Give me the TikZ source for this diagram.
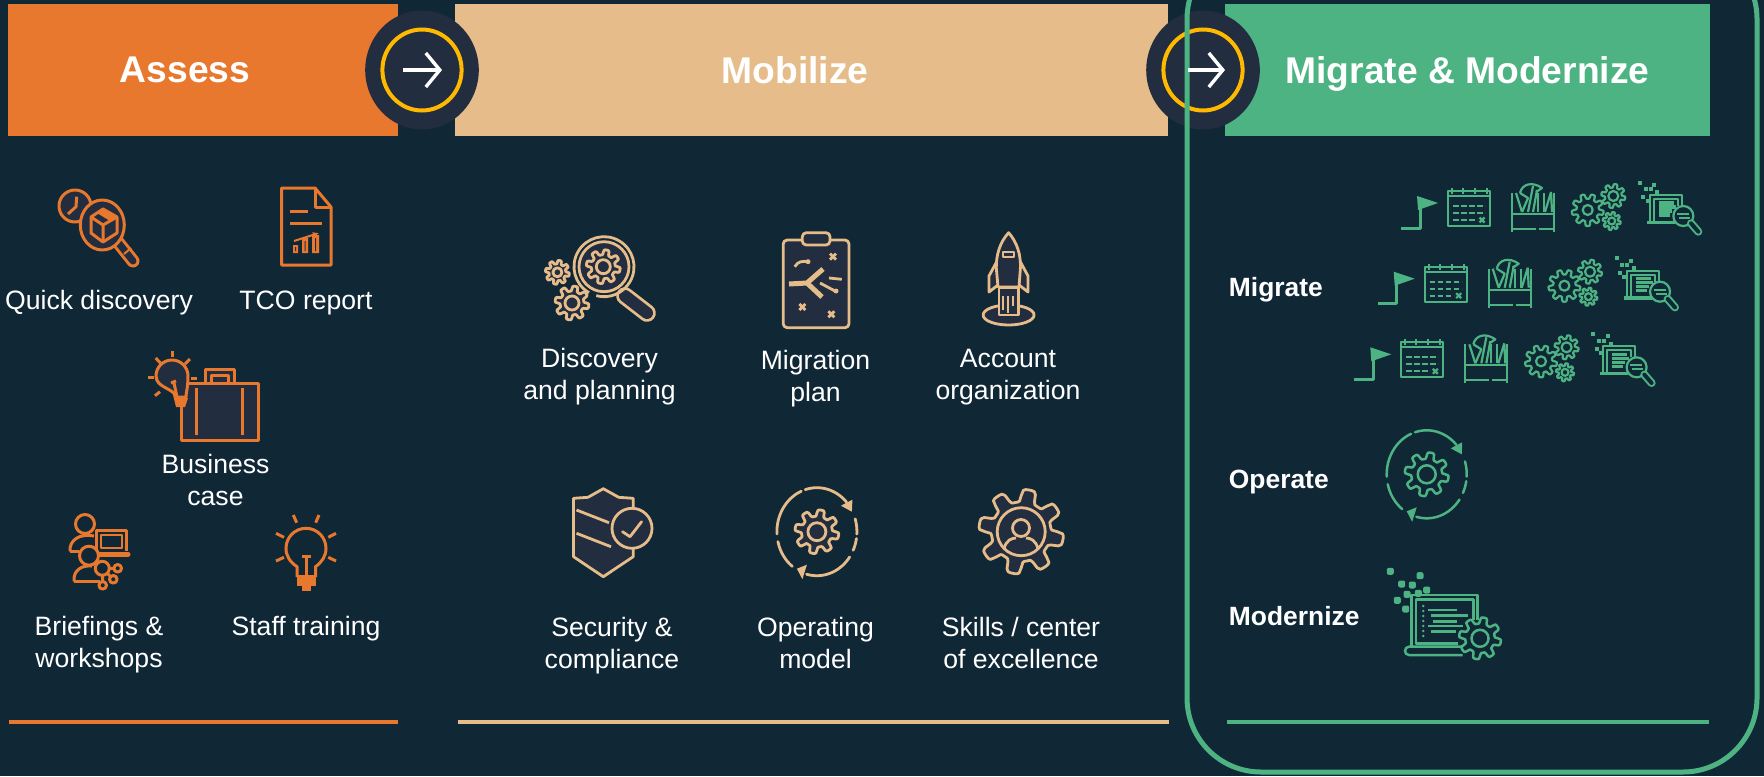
\documentclass[tikz,border=0pt]{standalone}
\usepackage{fontspec}
\setmainfont{Liberation Sans}
\usetikzlibrary{arrows.meta,shapes.geometric}
\definecolor{pagebg}{HTML}{102736}
\definecolor{panel}{HTML}{222D3F}
\definecolor{assesscol}{HTML}{E8782E}
\definecolor{mobilizecol}{HTML}{E6BD8A}
\definecolor{migratecol}{HTML}{4DB383}
\definecolor{ringcol}{HTML}{FFB900}
\colorlet{iconfill}{panel}
\tikzset{
  band/.style={minimum height=66pt, inner sep=0pt},
  bandtxt/.style={text=white, inner sep=0pt, text depth=0pt, font=\fontsize{18.6}{22}\selectfont\bfseries},
  lbl/.style={text=white, align=center, inner sep=0pt, font=\fontsize{13.3}{16.1}\selectfont},
  rowlbl/.style={text=white, anchor=west, inner sep=0pt, font=\fontsize{13.2}{16}\selectfont\bfseries},
  orangeicon/.style={color=assesscol, line width=1.5pt, line join=round},
  tanicon/.style={color=mobilizecol, line width=1.4pt, line join=round},
  greenicon/.style={color=migratecol, line width=1.25pt, line join=round},
  pics/gearicon/.style args={#1/#2/#3}{
    code={
      \draw[fill=iconfill] plot[domain=0:360, samples=121] (\x:{#1*(0.85+0.15*tanh(3*sin(#3*\x)))}) -- cycle;
      \draw (0,0) circle[radius=#2];
    }
  },
  pics/cycleicon/.style={
    code={
      \foreach \a/\b in {107/42, 17/-3, -9/-25, -35/-105, 113/183, 193/232}
        \draw[line cap=round] plot[domain=\a:\b, samples=24] ({40*cos(\x)},{-44*sin(\x)});
      \fill (24,-26) -- (35.5,-32) -- (35,-20) -- cycle;
      \fill (-20,37) -- (-10,33) -- (-14.5,47.5) -- cycle;
      \pic {gearicon={22/9/8}};
    }
  },
  pics/crossmark/.style={
    code={
      \draw[line width=1.4pt] (-3,-3) -- (3,3) (-3,3) -- (3,-3);
    }
  },
  pics/migraterow/.style={
    code={
      % flag
      \draw[line width=1.5pt] (1,0) -- (20,0) -- (20,-25);
      \fill (17,-32) -- (38,-25) -- (18,-18) -- cycle;
      % calendar
      \draw (48,-37) rectangle (90,-2);
      \draw (48,-32) -- (90,-32);
      \foreach \u in {52,63,75,87}
        \draw (\u,-40) -- (\u,-34);
      \draw[dash pattern=on 2.8pt off 1.2pt] (53,-22) -- (85,-22) (53,-15) -- (85,-15) (53,-8) -- (77,-8);
      \draw (79.5,-10.5) -- (84.5,-5.5) (79.5,-5.5) -- (84.5,-10.5);
      % toolbox
      \draw (112,-35) -- (112,4) (154,-35) -- (154,4);
      \draw (112,-14) -- (154,-14);
      \draw[dash pattern=on 12pt off 1.5pt] (112,1) -- (154,1);
      \draw (116,-35) -- (122,-16);
      \draw (122,-16) -- (128,-30) -- (120,-35);
      \draw (128,-16) -- (133,-42);
      \draw (133,-16) -- (137,-38);
      \draw (120,-35) .. controls (122,-44) and (132,-47) .. (142,-40) -- (136,-36);
      \draw (138,-35) -- (138,-16) (144,-35) -- (144,-16);
      \draw (151,-36) -- (145,-16) (151,-36) -- (152,-16);
      % gears
      \pic at (187.7,-18) {gearicon={16/5/9}};
      \pic at (213.3,-32) {gearicon={12/5/8}};
      \pic at (211.7,-7) {gearicon={9/3.5/8}};
      % laptop and lens
      \foreach \u/\v in {240/-45.3, 254.3/-43, 245.7/-38.7, 250.7/-38.7, 257.3/-35.7, 243.3/-30.7, 247.7/-26.7}
        \fill (\u-2,\v-2) rectangle (\u+2,\v+2);
      \draw (250,-6) -- (250,-33) -- (282,-33) -- (282,-22);
      \draw (254,-6) -- (254,-29) -- (278,-29) -- (278,-22);
      \draw[line width=1.8pt] (247,-5.7) -- (275,-5.7);
      \draw[line width=1.6pt] (259,-25) -- (274,-25) (259,-21) -- (276,-21) (259,-17) -- (272,-17) (259,-13) -- (270,-13);
      \draw[fill=iconfill] (283.3,-12) circle[radius=10];
      \draw (277,-14) -- (289,-14) (279,-10) -- (290,-10);
      \draw[line width=1pt, double=iconfill, double distance=2pt, line cap=round] (291,-4.7) -- (298.3,3.7);
    }
  },
}
\begin{document}
\begin{tikzpicture}[x=0.5pt, y=-0.5pt]
  \path[use as bounding box, clip] (0,0) rectangle (1764,776);
  \fill[pagebg] (0,0) rectangle (1764,776);

  % phase bands
  \node[band, fill=assesscol, minimum width=195pt] (assess) at (203,70) {};
  \node[band, fill=mobilizecol, minimum width=356.5pt] (mobilize) at (811.5,70) {};
  \node[band, fill=migratecol, minimum width=242.5pt] (migrate) at (1467.5,70) {};
  \node[bandtxt] (assesstxt) at (185,70) {Assess};
  \node[bandtxt] (mobilizetxt) at (795,70) {Mobilize};
  \node[bandtxt] (migratetxt) at (1467.5,70) {Migrate \& Modernize};

  \foreach \name/\u in {next1/422, next2/1203} {
    \node[ellipse, fill=panel, minimum width=56.8pt, minimum height=59.5pt, inner sep=0pt] (\name) at (\u,70) {};
    \node[ellipse, draw=ringcol, line width=2pt, minimum width=39.6pt, minimum height=40.5pt, inner sep=0pt] (\name ring) at (\u,70) {};
  }

  \draw[migratecol, line width=2.5pt, rounded corners=37pt] (1187,-55) rectangle (1757,772);

  \coordinate (arrow1a) at (403,70);
  \coordinate (arrow1b) at (442,70);
  \coordinate (arrow2a) at (1188,70);
  \coordinate (arrow2b) at (1225,70);
  \draw[white, line width=1.7pt, -{Straight Barb[length=7pt,width=17pt]}] (arrow1a) -- (arrow1b);
  \draw[white, line width=1.7pt, -{Straight Barb[length=7pt,width=17pt]}] (arrow2a) -- (arrow2b);

  % rules at the foot
  \draw[assesscol, line width=2pt] (9,721.5) -- (398,721.5);
  \draw[mobilizecol, line width=2pt] (458,721.5) -- (1169,721.5);
  \draw[migratecol, line width=2pt] (1227,721.5) -- (1709,721.5);

  % labels
  \node[lbl] (quick) at (99,303) {Quick discovery};
  \node[lbl] (tco) at (306,303) {TCO report};
  \node[lbl] (business) at (215.5,480) {Business\\case};
  \node[lbl] (briefings) at (99,645) {Briefings \&\\workshops};
  \node[lbl] (staff) at (306,629) {Staff training};
  \node[lbl] (discovery) at (599.5,376.5) {Discovery\\and planning};
  \node[lbl] (plan) at (815.5,378.5) {Migration\\plan};
  \node[lbl] (account) at (1008,377) {Account\\organization};
  \node[lbl] (security) at (612,645.5) {Security \&\\compliance};
  \node[lbl] (operating) at (815.5,643) {Operating\\model};
  \node[lbl] (skills) at (1021,643) {Skills / center\\of excellence};
  \node[rowlbl] (migraterow) at (1228.5,290) {Migrate};
  \node[rowlbl] (operaterow) at (1228.5,482) {Operate};
  \node[rowlbl] (modernizerow) at (1228.5,616) {Modernize};

  % assess icons
  \begin{scope}[orangeicon]
    \draw[fill=iconfill] (75,206) circle[radius=16];
    \draw (76.7,196.7) -- (76,206.7) -- (68,214);
    \draw[line width=1.5pt, double=iconfill, double distance=3.5pt, line cap=round] (117,241) -- (133,261);
    \draw[line width=1pt] (124,254) -- (131,248);
    \draw[fill=iconfill] (102.3,225) ellipse[x radius=22, y radius=25];
    \draw (103,209) -- (117,217) -- (117,233) -- (103,242) -- (91,233) -- (91,217) -- cycle;
    \draw (91,217) -- (103,225) -- (117,217) (103,225) -- (103,242);
    \fill (103,209) -- (117,217) -- (110,221) -- (97,213) -- cycle;

    \draw (281.7,188) -- (315,188) -- (331,207) -- (331,265) -- (281.7,265) -- cycle;
    \draw (315,188) -- (315,207) -- (331,207);
    \draw (290,211) -- (308,211) (290,223) -- (321.7,223);
    \fill (293,245) rectangle (298,253) (302,238) rectangle (308,253) (312,235) rectangle (319,253);
    \fill[iconfill] (295,247) rectangle (296,251) (304.5,241) rectangle (305.5,251) (315,238) rectangle (316,251);
    \draw[line width=1pt, -{Latex[length=3pt,width=3pt]}] (294,241) -- (319,233);

    \draw[fill=iconfill] (205,382) -- (205,369) -- (234.3,369) -- (234.3,382);
    \draw (211,382) -- (211,375) -- (228,375) -- (228,382);
    \draw[fill=iconfill] (181,383) rectangle (258.3,440);
    \draw (196.7,388) -- (196.7,435) (242.3,388) -- (242.3,435);
    \draw[fill=iconfill] (176,397) .. controls (174,388) and (156,388) .. (156,376) arc[start angle=180, end angle=360, radius=16] .. controls (188,388) and (186,392) .. (186,397) -- cycle;
    \foreach \ua/\va/\ub/\vb in {172/351/172/357, 155.7/358/160.7/363.3, 190/359/185/364, 148/377/154/377, 190.7/378/196.7/378, 155/395.7/160/391.7}
      \draw (\ua,\va) -- (\ub,\vb);
    \draw (171,383) -- (176,381) (174,383) -- (177,397);
    \fill (173,395) -- (188,398) -- (185,407) -- (176,407) -- cycle;

    \draw (85,524) circle[radius=9.5];
    \draw (70,551.5) .. controls (69,540) and (80,533) .. (94,536);
    \draw (70,551.5) -- (79,551.5);
    \draw (96,551) -- (96,530) -- (126.7,530) -- (126.7,551);
    \draw[line width=0.9pt] (101,535) rectangle (121.7,548);
    \draw[line width=2.5pt, line cap=round] (99,554.3) -- (128,554.3);
    \draw[fill=pagebg] (89,555.7) circle[radius=9.5];
    \draw (74,581.5) .. controls (73,570) and (82,565) .. (92,566);
    \draw (74,581.5) -- (100,581.5);
    \draw (102.3,568.3) -- (117.7,568.3) (102.3,568.3) -- (113.3,579.3) (102.3,568.3) -- (102.7,585.3);
    \draw[fill=pagebg] (102.3,568.3) circle[radius=7];
    \draw[fill=pagebg] (117.7,568.3) circle[radius=3.8];
    \draw[fill=pagebg] (113.3,579.3) circle[radius=3.8];
    \draw[fill=pagebg] (102.7,585.3) circle[radius=3.8];

    \draw (297,577) -- (297,566.7) .. controls (290,562) and (286,556) .. (286,548.3) arc[start angle=180, end angle=360, radius=20] .. controls (326,556) and (322,562) .. (315.5,566.7) -- (315.5,577);
    \draw (306,557) -- (306,575) (302,556) -- (311,556);
    \fill (297,575) rectangle (316,586);
    \fill (302,586) rectangle (311,591);
    \foreach \ua/\va/\ub/\vb in {293.3/515/296.7/522.7, 319/515/315.7/522.7, 276/533.3/284/537.3, 336/533.3/328.3/537.3, 276/561/284/557.3, 336/561/328.3/557.3}
      \draw (\ua,\va) -- (\ub,\vb);
  \end{scope}

  % mobilize icons
  \begin{scope}[tanicon]
    \draw[line width=1.4pt, double=iconfill, double distance=6pt, line cap=round] (625,296) -- (647,313);
    \draw (604,266.7) ++(120:30) arc[start angle=120, end angle=465, radius=30];
    \draw[fill=iconfill] (604,266.7) circle[radius=25];
    \pic at (603.3,266.7) {gearicon={17/7/8}};
    \pic at (557.4,272.3) {gearicon={12/4.5/8}};
    \pic at (572,303) {gearicon={17/7/8}};

    \draw[fill=iconfill, rounded corners=2pt] (783.2,240) rectangle (849,327.7);
    \draw[fill=iconfill, rounded corners=2pt] (802.3,232.7) rectangle (830,245);
    \draw[line width=2.5pt] (789,284) -- (807,283) -- (823,269) (807,283) -- (822,297);
    \draw (820,283) -- (835,291);
    \fill (836,291) circle[radius=2.5];
    \draw (794.7,266.7) .. controls (798,261) and (803,261) .. (808,261.7);
    \fill (808,261.7) circle[radius=2.5];
    \draw (829,278) -- (841.8,279.3);
    \pic at (833,256.7) {crossmark};
    \pic at (802.3,307) {crossmark};
    \pic at (831.4,314.3) {crossmark};

    \draw[fill=iconfill] (1008.6,315) ellipse[x radius=25.5, y radius=10];
    \draw[fill=iconfill] (996.5,262) -- (989,276) -- (989,292) -- (998,285) -- (1019,285) -- (1028,292) -- (1028,276) -- (1020.5,262) -- cycle;
    \draw[fill=iconfill] (1008.6,232.7) .. controls (1000,242) and (996,255) .. (996.3,268) -- (998,287) -- (1019,287) -- (1020.4,268) .. controls (1021,255) and (1017,242) .. cycle;
    \draw[line width=1pt] (1003,251.7) rectangle (1014,257.3);
    \draw[fill=iconfill] (999,288) rectangle (1018.5,315);
    \draw[line width=1pt] (1003,296) -- (1003,310) (1008,296) -- (1008,313) (1013,296) -- (1013,306);

    \draw[fill=iconfill] (573.5,498.3) -- (588,497.3) -- (603.3,488.7) -- (618.7,497.3) -- (633.2,498.3) -- (633.2,556.7) -- (603.3,576.7) -- (573.5,556.7) -- cycle;
    \draw (576.5,510) -- (609,522.7) (576.5,533.3) -- (611,546.7);
    \draw[fill=iconfill] (632,528.3) circle[radius=20];
    \draw[line cap=round] (622.5,531.7) -- (630,536.7) -- (641.6,521.7);

    \pic at (816.9,531.7) {cycleicon};

    \pic at (1021.2,531.7) {gearicon={42.5/24/8}};
    \draw (1021,528) circle[radius=8.5];
    \draw (1004,549) .. controls (1006,540) and (1012,538) .. (1016,538) (1026,538) .. controls (1030,538) and (1036,540) .. (1038,549);
  \end{scope}

  % migrate icons
  \colorlet{iconfill}{pagebg}
  \begin{scope}[greenicon, line width=1.1pt]
    \pic at (1400,228) {migraterow};
    \pic at (1376.7,303.7) {migraterow};
    \pic at (1353.3,379.3) {migraterow};
  \end{scope}
  \begin{scope}[greenicon]
    \pic at (1426.7,474.3) {cycleicon};

    \foreach \u/\v in {1390.3/571.3, 1420/575.7, 1401.7/584, 1412.3/585, 1426.7/590, 1407/594.3, 1418.3/593.3, 1397.3/600.3, 1405.7/609}
      \fill[rounded corners=1pt] (\u-3.5,\v-3.5) rectangle (\u+3.5,\v+3.5);
    \draw (1411.7,646.7) -- (1411.7,595) -- (1477.7,595) -- (1477.7,620);
    \draw (1458,643.3) -- (1416,643.3) -- (1416,599.3) -- (1473.3,599.3) -- (1473.3,620);
    \draw[rounded corners=2pt] (1462.7,646.7) -- (1405,646.7) -- (1405,655) -- (1462.7,655);
    \foreach \v in {606,611,616,621,626,631,636}
      \fill (1423.3,\v) circle[radius=1.4];
    \draw (1427.7,610) -- (1456.7,610) (1431,615.7) -- (1467.7,615.7) (1433.3,621.3) -- (1457.3,621.3) (1427.7,626) -- (1463.3,626) (1431,631.3) -- (1456,631.3);
    \pic at (1480,638.3) {gearicon={21/8.5/8}};
  \end{scope}
\end{tikzpicture}
\end{document}
